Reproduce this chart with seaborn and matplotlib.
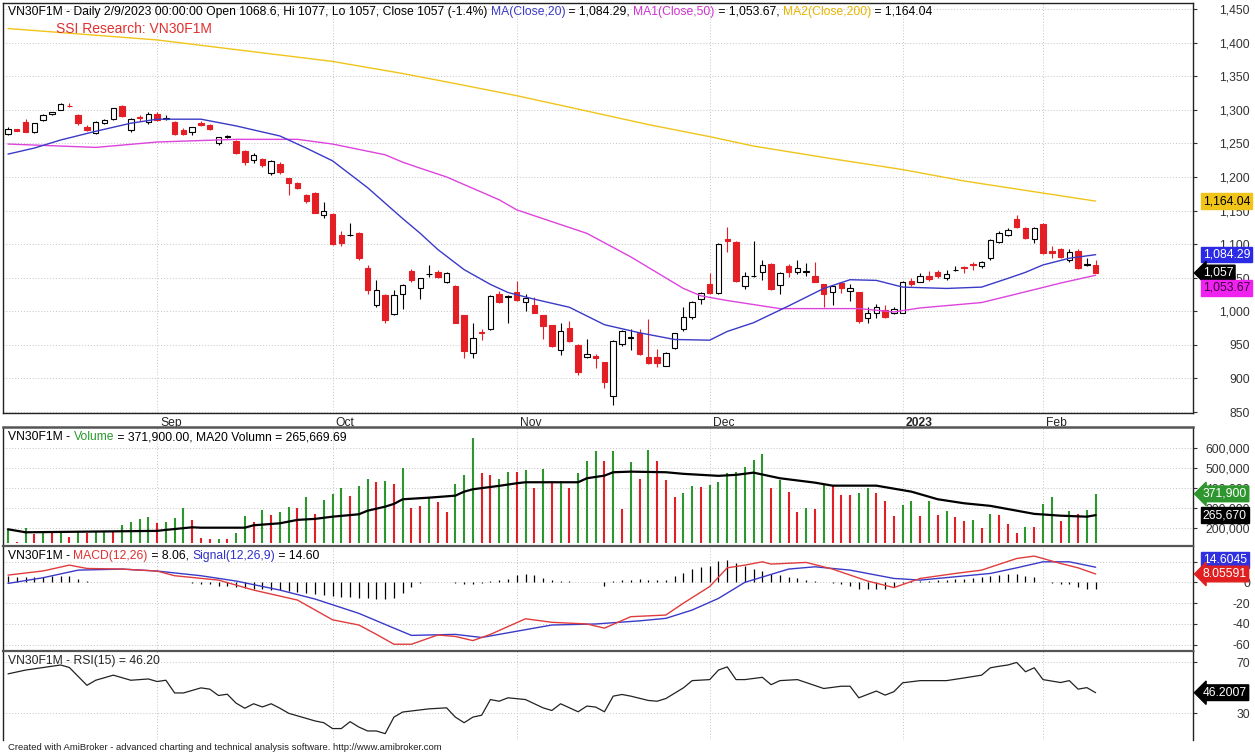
import matplotlib
matplotlib.use("Agg")
import matplotlib.pyplot as plt
import matplotlib.transforms as mtransforms
from matplotlib.ticker import FuncFormatter
import numpy as np
import seaborn as sns

W, H = 1255, 754

# daily bars, 1 = first visible bar (mid Aug 2022) ... 125 = 2/9/2023
opens = [1264, 1271, 1282, 1267, 1285, 1294, 1300, 1306, 1292, 1275,
         1265, 1281, 1286, 1306, 1270, 1289, 1282, 1294, 1287, 1282,
         1270, 1267, 1281, 1278, 1251, 1260, 1254, 1239, 1225, 1227,
         1206, 1220, 1198, 1191, 1173, 1176, 1143, 1145, 1113, 1113,
         1117, 1064, 1009, 1024, 996, 1026, 1060, 1034, 1055, 1059,
         1044, 1038, 994, 938, 969, 973, 1026, 1022, 1028, 1014,
         1009, 994, 979, 943, 975, 950, 932, 934, 924, 874,
         952, 960, 968, 932, 932, 919, 945, 973, 991, 1018,
         1040, 1027, 1107, 1103, 1038, 1052, 1058, 1070, 1039, 1067,
         1058, 1059, 1052, 1040, 1028, 1042, 1030, 1028, 990, 997,
         1002, 998, 998, 1045, 1044, 1053, 1058, 1049, 1061, 1066,
         1071, 1067, 1079, 1103, 1114, 1137, 1124, 1108, 1130, 1090,
         1092, 1077, 1090, 1069, 1068.6]
highs = [1274, 1272, 1286, 1281, 1293, 1297, 1310, 1310, 1293, 1277,
         1283, 1287, 1303, 1307, 1288, 1292, 1297, 1296, 1292, 1283,
         1273, 1275, 1283, 1279, 1260, 1262, 1255, 1240, 1235, 1228,
         1225, 1222, 1199, 1193, 1175, 1177, 1163, 1146, 1119, 1132,
         1118, 1069, 1047, 1025, 1032, 1041, 1063, 1050, 1069, 1062,
         1059, 1039, 995, 983, 974, 1024, 1030, 1024, 1045, 1026,
         1022, 995, 980, 983, 986, 951, 958, 936, 925, 957,
         972, 973, 973, 988, 944, 939, 968, 1006, 1015, 1028,
         1057, 1101, 1125, 1104, 1058, 1105, 1077, 1072, 1058, 1070,
         1077, 1072, 1074, 1041, 1038, 1043, 1041, 1029, 1007, 1011,
         1010, 1007, 1045, 1049, 1057, 1060, 1062, 1062, 1067, 1067,
         1074, 1075, 1107, 1120, 1124, 1143, 1126, 1126, 1131, 1097,
         1094, 1093, 1092, 1080, 1077]
lows = [1263, 1268, 1267, 1265, 1284, 1292, 1299, 1304, 1277, 1268,
        1264, 1279, 1285, 1290, 1267, 1284, 1279, 1283, 1285, 1262,
        1263, 1262, 1276, 1270, 1248, 1258, 1234, 1218, 1221, 1215,
        1203, 1205, 1173, 1182, 1161, 1146, 1139, 1098, 1097, 1112,
        1077, 1026, 1006, 983, 995, 1004, 1044, 1018, 1051, 1049,
        1042, 982, 930, 931, 957, 972, 1013, 983, 1016, 1001,
        997, 958, 947, 935, 955, 905, 930, 915, 886, 860,
        948, 942, 935, 921, 917, 918, 944, 970, 988, 1011,
        1026, 1025, 1088, 1044, 1033, 1051, 1046, 1032, 1026, 1051,
        1056, 1052, 1043, 1007, 1009, 1027, 1016, 983, 982, 990,
        990, 996, 997, 1038, 1043, 1045, 1050, 1046, 1060, 1057,
        1062, 1064, 1077, 1101, 1112, 1124, 1107, 1101, 1085, 1080,
        1079, 1073, 1063, 1068, 1057]
closes = [1271, 1269, 1267, 1280, 1292, 1296, 1309, 1305, 1280, 1270,
          1282, 1285, 1302, 1291, 1286, 1288, 1294, 1285, 1288, 1264,
          1264, 1274, 1277, 1271, 1259, 1261, 1236, 1223, 1232, 1218,
          1224, 1208, 1191, 1184, 1164, 1147, 1150, 1100, 1101, 1114,
          1079, 1031, 1031, 987, 1024, 1039, 1046, 1049, 1056, 1051,
          1057, 983, 941, 960, 967, 1023, 1014, 1023, 1017, 1020,
          998, 978, 948, 971, 956, 910, 937, 931, 894, 956,
          971, 962, 936, 923, 923, 938, 967, 992, 1014, 1027,
          1027, 1100, 1104, 1045, 1052, 1053, 1069, 1033, 1057, 1059,
          1064, 1060, 1044, 1026, 1037, 1035, 1034, 985, 998, 1007,
          991, 1003, 1044, 1041, 1053, 1048, 1053, 1055, 1061.5, 1064,
          1069, 1074, 1106, 1117, 1121, 1126, 1109, 1124, 1087, 1087,
          1081, 1089, 1065, 1071, 1057]

volumes = [195000, 133000, 200000, 170000, 183000, 175000, 183000, 158000, 180000, 175000,
           183000, 183000, 187000, 217000, 233000, 247000, 258000, 225000, 230000, 250000,
           300000, 242000, 153000, 145000, 147000, 145000, 175000, 263000, 233000, 292000,
           267000, 283000, 305000, 303000, 355000, 272000, 342000, 372000, 403000, 362000,
           413000, 447000, 430000, 437000, 422000, 500000, 303000, 312000, 353000, 333000,
           283000, 422000, 467000, 650000, 475000, 467000, 445000, 480000, 480000, 492000,
           400000, 495000, 437000, 437000, 403000, 475000, 538000, 588000, 537000, 585000,
           295000, 533000, 447000, 592000, 538000, 442000, 358000, 375000, 413000, 405000,
           417000, 433000, 478000, 483000, 508000, 542000, 572000, 403000, 442000, 383000,
           283000, 300000, 295000, 420000, 417000, 367000, 367000, 375000, 403000, 378000,
           338000, 262000, 317000, 337000, 263000, 337000, 267000, 288000, 258000, 238000,
           242000, 200000, 272000, 267000, 222000, 178000, 208000, 208000, 322000, 358000,
           237000, 287000, 272000, 292000, 371900]
vol_dir = ("grgrgrgrgr" "ggrggggrgg" "grrrgrggrg" "rggrgrgggr" "ggrgrgrrgr"
           "rgggrrggrg" "rgrgrgggrg" "rgrgrrrggr" "gggggggrgr" "rgrgrrrggr"
           "rrggrgrgrr" "grgrrrgrgg" "rgrgg")

# moving averages at sparse bars
ma20_bar = [1, 4, 7, 11, 15, 18, 23, 27, 32, 35, 38, 42, 46, 48, 50, 53, 56, 58, 61, 65,
            69, 73, 77, 81, 83, 86, 90, 94, 97, 100, 103, 108, 112, 115, 117, 119, 122, 125]
ma20_val = [1234, 1243, 1255, 1268, 1280, 1286, 1286, 1276, 1261, 1243, 1224, 1184, 1138, 1116,
            1092, 1062, 1040, 1028, 1018, 1006, 980, 968, 958, 957, 970, 983, 1008, 1034, 1047,
            1046, 1036, 1034, 1036, 1049, 1058, 1069, 1079, 1084.29]
ma50_bar = [1, 5, 11, 18, 27, 34, 38, 44, 46, 48, 51, 57, 59, 67, 72, 78, 80, 83, 89, 98,
            102, 105, 112, 117, 121, 125]
ma50_val = [1249, 1247, 1244, 1252, 1256, 1256, 1249, 1233, 1222, 1213, 1200, 1166, 1151,
            1116, 1081, 1034, 1023, 1016, 1004, 1004, 999, 1005, 1013, 1029, 1042, 1053.67]
ma200_bar = [1, 18, 38, 46, 52, 59, 66, 74, 81, 86, 95, 103, 110, 125]
ma200_val = [1421, 1404, 1372, 1354, 1339, 1321, 1301, 1278, 1260, 1246, 1227, 1211, 1194, 1164.04]

volma_bar = [1, 3, 18, 19, 22, 23, 28, 29, 32, 34, 36, 38, 41, 42, 44, 45, 46, 49, 52, 53,
             54, 57, 59, 60, 66, 67, 69, 70, 72, 76, 78, 82, 84, 86, 89, 93, 95, 100, 104, 107,
             110, 113, 116, 118, 121, 124, 125]
volma_val = [195000, 180000, 187000, 192000, 205000, 203000, 203000, 215000, 225000, 242000,
             247000, 258000, 270000, 288000, 308000, 322000, 345000, 353000, 363000, 383000,
             395000, 412000, 425000, 430000, 430000, 450000, 463000, 480000, 483000, 480000,
             472000, 462000, 467000, 478000, 450000, 428000, 413000, 413000, 383000, 345000,
             325000, 312000, 288000, 272000, 263000, 258000, 265670]

macd_bar = [1, 5, 8, 10, 14, 18, 20, 25, 29, 34, 38, 41, 43, 45, 47, 50, 52, 54, 56, 60, 63,
            67, 69, 72, 76, 78, 81, 83, 85, 87, 88, 92, 95, 99, 102, 105, 109, 112, 116, 118,
            121, 123, 125]
macd_val = [7, 11, 16.6, 13.4, 12.8, 10.9, 6.4, 2.2, -7.4, -17, -36, -41, -50, -59.5, -59.5,
            -50.6, -52, -56, -50, -35, -38.4, -40, -44, -33, -31.4, -20, -4, 14, 16.6, 19.8,
            17.6, 19.2, 12.8, 1.3, -5, 3.8, 8.6, 11.8, 23, 25.3, 18.2, 14, 8.06]
signal_bar = [1, 5, 9, 14, 18, 23, 27, 32, 36, 41, 45, 47, 52, 55, 59, 63, 68, 73, 76, 79,
              82, 85, 88, 90, 93, 97, 102, 105, 109, 113, 116, 119, 122, 125]
signal_val = [-1, 4.5, 11.8, 12.8, 10.9, 6.4, 1.3, -7.4, -16, -29.8, -44, -51, -50, -53, -47,
              -41, -40, -37, -34.6, -26.6, -15.4, 0, 7.7, 12.8, 15, 11.8, 3.8, 2.2, 5.4, 8.6,
              14, 19.8, 19.8, 14.6]
macd_hist = [6, 5, 5, 5, 5, 6, 6, 6, 3, 1,
             0.3, 0.3, 0.3, 0.3, 0.3, 0.3, 0.3, 0.3, 0, 0,
             0, -1, -2, -2, -3, -3, -4, -5, -6, -6,
             -7, -7, -8, -9, -10, -11, -12, -13, -14, -14,
             -15, -15, -16, -16, -15, -10, -4, -1, 0.5, 0.5,
             0, -0.5, -1.5, -1.5, -1, 1, 2, 3, 7, 8,
             7, 4, 2, 1, 1, 0.5, 0.5, 0, -3, 1,
             2, 2, 3, 2, 2, 2.5, 6, 8.6, 12.8, 15,
             16, 21, 22, 19, 16, 13, 11, 8, 7, 5,
             4, 2, 1, 0, -1, -2, -3, -6, -6.5, -6.5,
             -6, -4, -1, 1, 1.5, 1.5, 2, 2, 3, 3.5,
             4, 5, 6, 7, 7.7, 7.7, 6.4, 4.8, 0.5, -0.5,
             -1.5, -2, -4, -6, -6.5]

rsi_bar = [1, 3, 5, 7, 8, 9, 10, 11, 12, 13, 14, 15, 17, 18, 19, 20, 21, 23, 24, 25, 26, 27,
           28, 29, 30, 31, 32, 33, 34, 36, 37, 38, 39, 40, 41, 42, 43, 44, 45, 46, 49, 51, 52,
           53, 54, 55, 56, 57, 58, 60, 62, 63, 64, 66, 67, 68, 69, 70, 71, 72, 74, 75, 76, 78,
           79, 81, 82, 83, 84, 85, 87, 88, 89, 91, 94, 96, 97, 98, 100, 101, 102, 103, 105,
           108, 110, 112, 113, 114, 115, 116, 117, 118, 119, 121, 122, 123, 124, 125]
rsi_val = [61, 64, 66, 68, 66, 59, 52, 56, 58, 60, 58, 56, 57, 55, 56, 46, 46, 50, 49, 44, 45,
           38, 34, 37.5, 35, 37.5, 34, 30, 28, 24, 22.6, 18, 18, 23.4, 19.2, 16.1, 16.1, 14,
           27, 31, 33.5, 34.3, 27, 22.6, 27, 28.5, 40.8, 39.5, 42.2, 40.8, 34.3, 32.2, 37.5,
           31.2, 35.7, 34.9, 31.2, 43.5, 44.8, 43.5, 40.1, 39.5, 41.6, 50, 55.7, 56.5, 64,
           66.5, 56.5, 56.5, 58.3, 52.5, 55.7, 56.5, 49.5, 51.3, 51.3, 42.2, 47.5, 44.3, 47,
           54, 55.7, 55.7, 57.8, 60, 65.8, 67, 68, 70, 62.7, 65.8, 56.5, 54.2, 55.7, 49, 50.2,
           46.2]

month_bar = [18, 38, 59, 81, 103, 119]
month_label = ["Sep", "Oct", "Nov", "Dec", "2023", "Feb"]

RED = "#e31e24"
VGREEN = "#2e962e"
BLUE = "#3a3ac8"
MAGENTA = "#dd44dd"
GOLD = "#f0c419"
GRID = "#c4c4c4"
FS = 8.7


def px_axes(fig, top, bottom, left=3, right=1193):
    return fig.add_axes([left / W, 1 - bottom / H, (right - left) / W, (bottom - top) / H])


def style_pane(ax, yticks, fmt):
    ax.set_xlim(-0.57, 135.1)
    ax.set_xticks(np.array(month_bar) - 1)
    ax.set_yticks(yticks)
    ax.yaxis.set_major_formatter(FuncFormatter(fmt))
    ax.yaxis.tick_right()
    ax.tick_params(axis="y", direction="out", length=3, width=0.8, pad=38,
                   labelsize=FS, labelcolor="#333333", color="#333333")
    for lbl in ax.yaxis.get_majorticklabels():
        lbl.set_horizontalalignment("right")
    ax.grid(True, ls=(0, (1, 2)), color=GRID, lw=0.7)
    ax.set_axisbelow(True)
    for sp in ax.spines.values():
        sp.set_color("#222222")
        sp.set_linewidth(1.0)
    ax.set_facecolor("white")


def value_box(ax, val, txt, fc, tc, style="square", dy=0):
    ax.annotate(txt, xy=(1, val), xycoords=ax.get_yaxis_transform(),
                xytext=(7, dy), textcoords="offset points", ha="left", va="center",
                fontsize=FS, color=tc, annotation_clip=False, zorder=20,
                bbox=dict(boxstyle=f"{style},pad=0.15", fc=fc, ec=fc))


def text_row(fig, x_px, y_px, parts, size, **kw):
    r = fig.canvas.get_renderer()

    def width(s):
        t = fig.text(0, 0, s + "|", fontsize=size, **kw)
        w = t.get_window_extent(r).width
        t.remove()
        return w

    bar_w = width("")
    prefix = ""
    for s, col in parts:
        x = x_px + (width(prefix) - bar_w if prefix else 0)
        fig.text(x / W, 1 - y_px / H, s, color=col, fontsize=size, ha="left", va="center", **kw)
        prefix += s


def main():
    sns.set_style("white")
    plt.rcParams["font.family"] = ["Liberation Sans", "DejaVu Sans"]

    fig = plt.figure(figsize=(W / 100, H / 100), dpi=100, facecolor="white")
    x = np.arange(len(closes))
    o, h, l, c = (np.array(v, dtype=float) for v in (opens, highs, lows, closes))

    # price pane
    ax = px_axes(fig, 3, 412.7)
    style_pane(ax, np.arange(850, 1451, 50), lambda v, p: f"{v:,.0f}")
    ax.set_ylim(849, 1459)
    up = c >= o
    ax.vlines(x[up], l[up], h[up], color="black", lw=0.8, zorder=3)
    ax.vlines(x[~up], l[~up], h[~up], color=RED, lw=0.8, zorder=3)
    lo = np.minimum(o, c)
    bh = np.maximum(np.abs(c - o), 0.9)
    ax.bar(x[up], bh[up], bottom=lo[up], width=0.62, color="white", edgecolor="black", lw=0.8, zorder=4)
    ax.bar(x[~up], bh[~up], bottom=lo[~up], width=0.62, color=RED, edgecolor=RED, lw=0.8, zorder=4)
    sns.lineplot(x=np.array(ma200_bar) - 1, y=ma200_val, ax=ax, color=GOLD, lw=1.0, zorder=5)
    sns.lineplot(x=np.array(ma50_bar) - 1, y=ma50_val, ax=ax, color=MAGENTA, lw=1.0, zorder=5)
    sns.lineplot(x=np.array(ma20_bar) - 1, y=ma20_val, ax=ax, color=BLUE, lw=1.0, zorder=5)
    ax.set_xticklabels(month_label)
    ax.tick_params(axis="x", direction="out", length=6, width=0.8, pad=-3,
                   labelsize=FS, color="#555555")
    shift = mtransforms.ScaledTranslation(3 / 100, 0, fig.dpi_scale_trans)
    for lbl in ax.get_xticklabels():
        lbl.set_horizontalalignment("left")
        lbl.set_transform(lbl.get_transform() + shift)
    ax.get_xticklabels()[4].set_fontweight("bold")
    ax.set_xlabel("")
    ax.set_ylabel("")
    value_box(ax, 1164.04, "1,164.04", GOLD, "black")
    value_box(ax, 1084.29, "1,084.29", "#2b2be6", "white")
    value_box(ax, 1057, "1,057", "black", "white", "larrow")
    value_box(ax, 1053.67, "1,053.67", "#f022f0", "#3a003a", dy=-9)

    # volume pane
    av = px_axes(fig, 427, 545.5)
    style_pane(av, np.arange(200000, 600001, 100000), lambda v, p: f"{v:,.0f}")
    av.set_ylim(114000, 706000)
    vcol = [VGREEN if d == "g" else RED for d in vol_dir]
    av.vlines(x, 128000, volumes, colors=vcol, lw=1.5, zorder=3)
    sns.lineplot(x=np.array(volma_bar) - 1, y=volma_val, ax=av, color="black", lw=1.6, zorder=5)
    av.tick_params(axis="x", length=0, labelbottom=False)
    av.spines["top"].set_linewidth(1.8)
    av.spines["top"].set_color("#555555")
    av.set_xlabel("")
    av.set_ylabel("")
    value_box(av, 371900, "371,900", VGREEN, "white", "larrow")
    value_box(av, 265670, "265,670", "black", "white")

    # MACD pane
    am = px_axes(fig, 546, 651)
    style_pane(am, [20, 0, -20, -40, -60], lambda v, p: f"{v:.0f}")
    am.set_ylim(-66, 35)
    am.vlines(x, 0, macd_hist, color="black", lw=0.9, zorder=3)
    sns.lineplot(x=np.array(signal_bar) - 1, y=signal_val, ax=am, color=BLUE, lw=1.0, zorder=5)
    sns.lineplot(x=np.array(macd_bar) - 1, y=macd_val, ax=am, color="#e03c3c", lw=1.0, zorder=5)
    am.tick_params(axis="x", length=0, labelbottom=False)
    am.spines["top"].set_linewidth(1.6)
    am.spines["top"].set_color("#555555")
    am.set_xlabel("")
    am.set_ylabel("")
    value_box(am, 14.6045, "14.6045", "#3030e0", "white", dy=5)
    value_box(am, 8.05591, "8.05591", "#e02020", "white", "larrow")

    # RSI pane
    ar = px_axes(fig, 651, 740)
    style_pane(ar, [30, 70], lambda v, p: f"{v:.0f}")
    ar.set_ylim(9, 79)
    sns.lineplot(x=np.array(rsi_bar) - 1, y=rsi_val, ax=ar, color="#222222", lw=0.9, zorder=5)
    ar.tick_params(axis="x", length=0, labelbottom=False)
    ar.spines["top"].set_linewidth(1.6)
    ar.spines["top"].set_color("#555555")
    ar.spines["bottom"].set_visible(False)
    ar.set_xlabel("")
    ar.set_ylabel("")
    value_box(ar, 46.2007, "46.2007", "black", "white", "larrow")

    # header texts
    text_row(fig, 8, 12, [
        ("VN30F1M - Daily 2/9/2023 00:00:00 Open 1068.6, Hi 1077, Lo 1057, Close 1057 (-1.4%) ", "black"),
        ("MA(Close,20)", BLUE), (" = 1,084.29, ", "black"),
        ("MA1(Close,50)", "#d030d0"), (" = 1,053.67, ", "black"),
        ("MA2(Close,200)", "#e8b400"), (" = 1,164.04", "black")], FS)
    fig.text(56 / W, 1 - 29 / H, "SSI Research: VN30F1M", color="#e03030", fontsize=10,
             ha="left", va="center")
    text_row(fig, 8, 437, [("VN30F1M - ", "black"), ("Volume", "#2a9a2a"),
                           (" = 371,900.00, MA20 Volumn = 265,669.69", "black")], FS)
    text_row(fig, 8, 556, [("VN30F1M - ", "black"), ("MACD(12,26)", "#e03030"),
                           (" = 8.06, ", "black"), ("Signal(12,26,9)", "#3030c8"),
                           (" = 14.60", "black")], FS)
    fig.text(8 / W, 1 - 661 / H, "VN30F1M - RSI(15) = 46.20", fontsize=FS, ha="left", va="center")
    fig.text(8 / W, 1 - 748 / H,
             "Created with AmiBroker - advanced charting and technical analysis software. http://www.amibroker.com",
             fontsize=6.8, ha="left", va="center", color="#222222")

    fig.savefig("out.png", dpi=100, facecolor="white")


if __name__ == "__main__":
    main()
